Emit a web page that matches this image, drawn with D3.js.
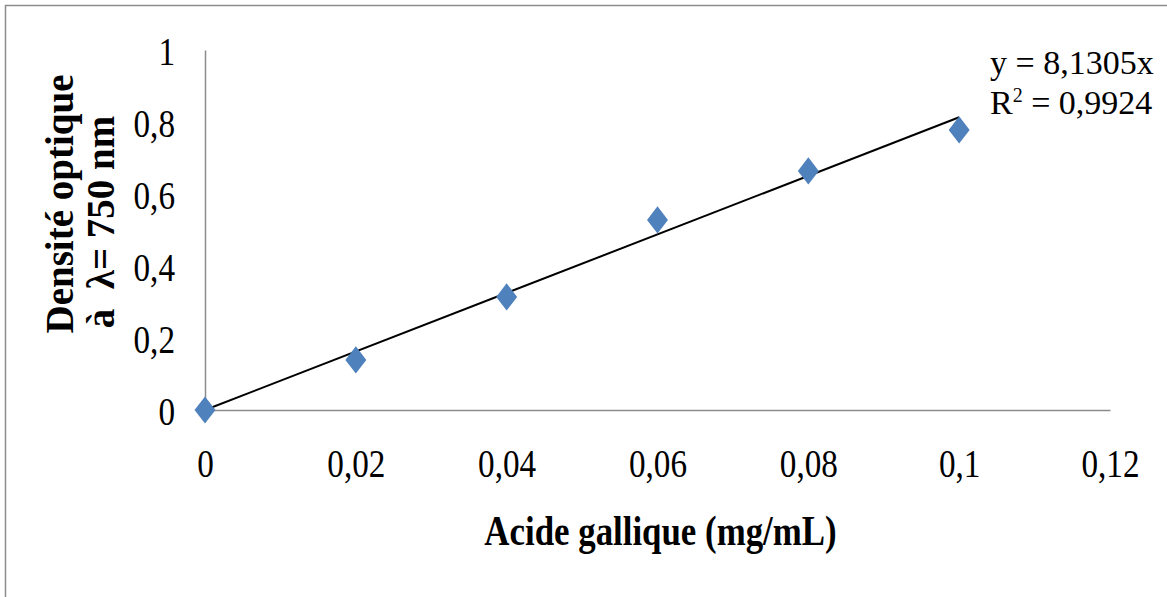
<!DOCTYPE html>
<html>
<head>
<meta charset="utf-8">
<script src="https://cdn.jsdelivr.net/npm/d3@7"></script>
<style>
  body { margin: 0; background: #fff; }
  text { font-family: "Liberation Serif", "Times New Roman", serif; fill: #000; }
</style>
</head>
<body>
<script>
// data
var concentrations = [0, 0.02, 0.04, 0.06, 0.08, 0.1];
var absorbances = [0, 0.139, 0.314, 0.528, 0.664, 0.778];
var xTicks = [0, 0.02, 0.04, 0.06, 0.08, 0.1, 0.12];
var yTicks = [0, 0.2, 0.4, 0.6, 0.8, 1];
var slope = 8.1305;
var rSquared = '0,9924';

// colours
var colorMarker = '#4f81bd',
    colorAxis = '#8c8c8c';

var width = 1167,
    height = 597,
    squeeze = 0.83; // the lettering in the picture is narrow

var frenchNum = function (v) { return String(+v.toFixed(4)).replace('.', ','); };

var svg = d3.select('body')
    .append('svg')
    .attr('width', width)
    .attr('height', height);

// frame (only top and left edges show)
svg.append('rect')
    .attr('x', 5.5)
    .attr('y', 5.5)
    .attr('width', width + 10)
    .attr('height', height + 10)
    .attr('fill', 'white')
    .attr('stroke', colorAxis)
    .attr('stroke-width', 1.5);

// scales
var x = d3.scaleLinear().domain([0, 0.12]).range([205, 1110]);
var y = d3.scaleLinear().domain([0, 1]).range([410, 50]);

// axes
var xAxis = svg.append('g')
    .attr('transform', 'translate(0,' + y(0) + ')')
    .call(d3.axisBottom(x).tickValues(xTicks).tickFormat(frenchNum).tickSize(0).tickPadding(0));
var yAxis = svg.append('g')
    .attr('transform', 'translate(' + x(0) + ',0)')
    .call(d3.axisLeft(y).tickValues(yTicks).tickFormat(frenchNum).tickSize(0).tickPadding(0));

[xAxis, yAxis].forEach(function (g) {
    g.select('.domain').attr('stroke', colorAxis).attr('stroke-width', 1.5);
    g.selectAll('text')
        .attr('font-family', '"Liberation Serif", serif')
        .attr('font-size', 40)
        .attr('fill', '#000');
});
xAxis.selectAll('text')
    .attr('dy', null)
    .attr('y', 67)
    .attr('transform', 'scale(' + squeeze + ',1)');
yAxis.selectAll('text')
    .attr('dy', '0.35em')
    .attr('x', -30 / squeeze)
    .attr('transform', 'scale(' + squeeze + ',1)');

// trend line y = 8,1305x
svg.append('line')
    .attr('x1', x(0))
    .attr('y1', y(0))
    .attr('x2', x(d3.max(concentrations)))
    .attr('y2', y(slope * d3.max(concentrations)))
    .attr('stroke', '#000')
    .attr('stroke-width', 2);

// markers
var diamond = d3.symbol().type(d3.symbolDiamond2).size(280);
svg.append('g').selectAll('path')
    .data(concentrations)
    .enter()
    .append('path')
    .attr('d', diamond)
    .attr('transform', function (d, i) {
        return 'translate(' + x(d) + ',' + y(absorbances[i]) + ') scale(1,1.3)';
    })
    .attr('fill', colorMarker);

// equation
var eq = svg.append('g')
    .attr('transform', 'translate(990,0)');
eq.append('text')
    .attr('y', 74)
    .attr('font-size', 34)
    .text('y = ' + frenchNum(slope) + 'x');
var r2 = eq.append('text')
    .attr('y', 114)
    .attr('font-size', 34);
r2.append('tspan').text('R');
r2.append('tspan').attr('font-size', 20).attr('dy', -12).text('2');
r2.append('tspan').attr('dy', 12).text(' = ' + rSquared);

// x title
svg.append('text')
    .attr('transform', 'translate(' + (x(0.06) + 3) + ',545) scale(' + squeeze + ',1)')
    .attr('text-anchor', 'middle')
    .attr('font-size', 42)
    .attr('font-weight', 'bold')
    .text('Acide gallique (mg/mL)');

// y title, two lines
svg.append('text')
    .attr('transform', 'translate(73,204) rotate(-90)')
    .attr('text-anchor', 'middle')
    .attr('font-size', 39)
    .attr('font-weight', 'bold')
    .text('Densité optique');
svg.append('text')
    .attr('transform', 'translate(114,222) rotate(-90)')
    .attr('text-anchor', 'middle')
    .attr('font-size', 39)
    .attr('font-weight', 'bold')
    .style('white-space', 'pre')
    .text('à  λ= 750 nm');
</script>
</body>
</html>
